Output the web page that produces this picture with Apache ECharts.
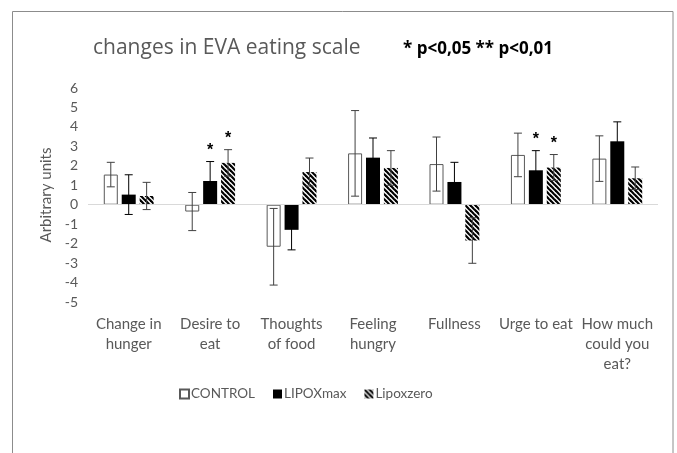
<!DOCTYPE html>
<html>
<head>
<meta charset="utf-8">
<script src="https://cdn.jsdelivr.net/npm/echarts@6/dist/echarts.min.js"></script>
<style>
  html, body { margin: 0; padding: 0; background: #fff; }
  #chart { width: 677px; height: 453px; }
</style>
</head>
<body>
<div id="chart"></div>
<script>
const categories = ['Change in\nhunger', 'Desire to\neat', 'Thoughts\nof food', 'Feeling\nhungry', 'Fullness', 'Urge to eat', 'How much\ncould you\neat?'];
const seriesNames = ['CONTROL', 'LIPOXmax', 'Lipoxzero'];

const control = [1.55, -0.35, -2.16, 2.64, 2.09, 2.56, 2.37];
const controlErr = [0.63, 0.98, 1.97, 2.2, 1.39, 1.12, 1.17];
const lipoxmax = [0.52, 1.22, -1.29, 2.42, 1.17, 1.77, 3.26];
const lipoxmaxErr = [1.02, 1.0, 1.03, 1.01, 1.01, 1.01, 1.0];
const lipoxzero = [0.45, 2.15, 1.68, 1.89, -1.84, 1.91, 1.36];
const lipoxzeroErr = [0.7, 0.68, 0.72, 0.89, 1.17, 0.67, 0.58];

// significance marks
const sigControl = ['', '', '', '', '', '', ''];
const sigLipoxmax = ['', '*', '', '', '', '*', ''];
const sigLipoxzero = ['', '*', '', '', '', '*', ''];

const yTicks = [-5, -4, -3, -2, -1, 0, 1, 2, 3, 4, 5, 6];

const FONT = 'Lato, "Open Sans", sans-serif';
const BAR_W = 14;
const BAR_GAP = 0.28;
const offsets = [-(BAR_W * (1 + BAR_GAP)), 0, BAR_W * (1 + BAR_GAP)];

// hatch pattern for Lipoxzero
const hatch = document.createElement('canvas');
hatch.width = 5;
hatch.height = 5;
const hctx = hatch.getContext('2d');
hctx.fillStyle = '#fff';
hctx.fillRect(0, 0, 5, 5);
hctx.strokeStyle = '#000';
hctx.lineWidth = 2.2;
for (let k = -1; k <= 1; k++) {
  hctx.beginPath();
  hctx.moveTo(k * 5 - 1, -1);
  hctx.lineTo(k * 5 + 6, 6);
  hctx.stroke();
}

function errSeries(vals, errs, sigs, k, color) {
  return {
    type: 'custom',
    name: 'err' + k,
    z: 10,
    silent: true,
    data: vals.map((v, i) => [i, v, errs[i]]),
    renderItem: function (params, api) {
      const i = api.value(0);
      const v = api.value(1);
      const e = api.value(2);
      const x = api.coord([i, v])[0] + offsets[k];
      const top = api.coord([i, v + e])[1];
      const bot = api.coord([i, v - e])[1];
      const st = { stroke: color, lineWidth: 1 };
      const kids = [
        { type: 'line', shape: { x1: x, y1: top, x2: x, y2: bot }, style: st },
        { type: 'line', shape: { x1: x - 4, y1: top, x2: x + 4, y2: top }, style: st },
        { type: 'line', shape: { x1: x - 4, y1: bot, x2: x + 4, y2: bot }, style: st }
      ];
      const s = sigs[params.dataIndex];
      if (s) {
        kids.push({
          type: 'text',
          style: {
            text: s, x: x, y: top - 19,
            align: 'center', verticalAlign: 'top',
            fill: '#000', font: 'bold 16px "Liberation Sans", sans-serif'
          }
        });
      }
      return { type: 'group', children: kids };
    }
  };
}

const chart = echarts.init(document.getElementById('chart'));
const option = {
  backgroundColor: '#fff',
  animation: false,
  title: [
    {
      text: 'changes in EVA eating scale',
      left: 88, top: 33,
      textStyle: { fontFamily: '"Open Sans", sans-serif', fontSize: 21, fontWeight: 'normal', color: '#595959' }
    },
    {
      text: '* p<0,05 ** p<0,01',
      left: 398, top: 36,
      textStyle: { fontFamily: '"Open Sans", sans-serif', fontSize: 17, fontWeight: 'bold', color: '#000' }
    }
  ],
  graphic: [
    {
      type: 'rect',
      shape: { x: 12.5, y: 11.5, width: 660.5, height: 470 },
      style: { fill: null, stroke: '#8c8c8c', lineWidth: 1 },
      silent: true
    }
  ],
  legend: {
    data: seriesNames,
    left: 174, top: 382,
    icon: 'rect',
    itemWidth: 9, itemHeight: 9,
    itemGap: 18,
    textStyle: { fontFamily: FONT, fontSize: 13.5, color: '#595959', padding: [0, 0, 0, -3] }
  },
  grid: { left: 88, right: 19, top: 88, bottom: 151 },
  xAxis: {
    type: 'category',
    data: categories,
    axisLine: { show: false, onZero: false },
    axisTick: { show: false },
    axisLabel: {
      fontFamily: FONT, fontSize: 15, color: '#595959',
      lineHeight: 20, margin: 12, interval: 0
    }
  },
  yAxis: {
    type: 'value',
    min: -5, max: 6, interval: 1,
    name: 'Arbitrary units',
    nameLocation: 'middle',
    nameGap: 30,
    nameTextStyle: { fontFamily: FONT, fontSize: 15, color: '#595959' },
    axisLine: { show: false },
    axisTick: { show: false },
    splitLine: { show: false },
    axisLabel: {
      fontFamily: FONT, fontSize: 14, color: '#595959', margin: 10,
      formatter: v => (yTicks.indexOf(v) >= 0 ? String(v) : '')
    }
  },
  series: [
    {
      name: seriesNames[0], type: 'bar', data: control,
      barWidth: BAR_W, barGap: (BAR_GAP * 100) + '%',
      itemStyle: { color: '#fff', borderColor: '#595959', borderWidth: 1 },
      markLine: {
        silent: true, symbol: 'none', label: { show: false },
        lineStyle: { color: '#d9d9d9', type: 'solid', width: 1 },
        data: [{ yAxis: 0 }]
      }
    },
    {
      name: seriesNames[1], type: 'bar', data: lipoxmax,
      barWidth: BAR_W, barGap: (BAR_GAP * 100) + '%',
      itemStyle: { color: '#000' }
    },
    {
      name: seriesNames[2], type: 'bar', data: lipoxzero,
      barWidth: BAR_W, barGap: (BAR_GAP * 100) + '%',
      itemStyle: { color: { image: hatch, repeat: 'repeat' } }
    },
    errSeries(control, controlErr, sigControl, 0, '#404040'),
    errSeries(lipoxmax, lipoxmaxErr, sigLipoxmax, 1, '#000'),
    errSeries(lipoxzero, lipoxzeroErr, sigLipoxzero, 2, '#404040')
  ]
};
chart.setOption(option);
window.addEventListener('resize', function () {
  chart.resize();
});
</script>
</body>
</html>
